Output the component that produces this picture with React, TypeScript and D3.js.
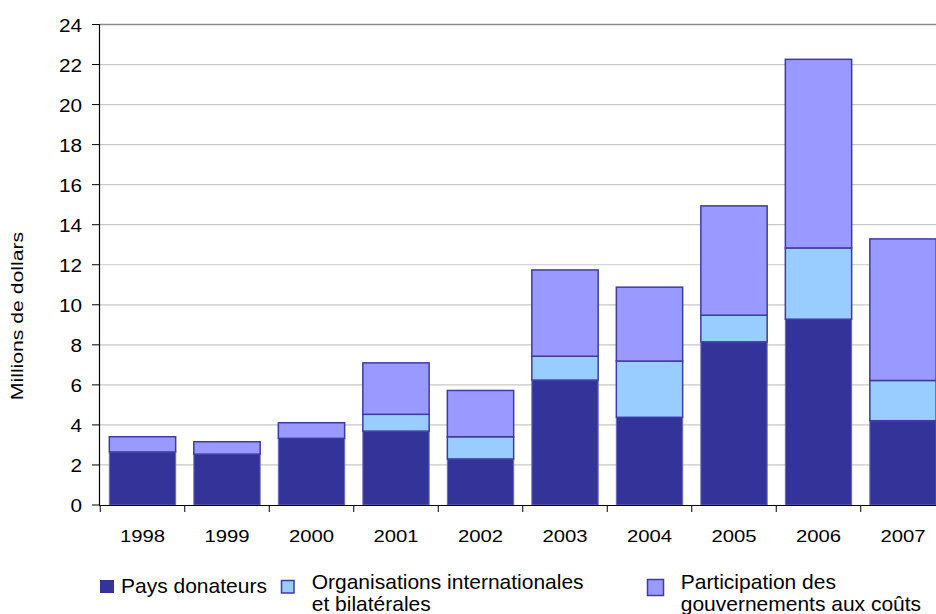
import React, { useEffect, useRef } from 'react';
import * as d3 from 'd3';

const years = ['1998', '1999', '2000', '2001', '2002', '2003', '2004', '2005', '2006', '2007'];
const paysDonateurs = [2.65, 2.54, 3.33, 3.69, 2.3, 6.24, 4.38, 8.15, 9.28, 4.21];
const organisations = [0, 0, 0, 0.84, 1.11, 1.19, 2.81, 1.33, 3.56, 2.01];
const participation = [0.76, 0.62, 0.78, 2.57, 2.31, 4.31, 3.69, 5.46, 9.42, 7.07];
const yTicks = [0, 2, 4, 6, 8, 10, 12, 14, 16, 18, 20, 22, 24];

const seriesKeys = ['pays', 'orga', 'part'];
const colors = { pays: '#333399', orga: '#99ccff', part: '#9999ff' };
const strokes = { pays: '#6a6ac2', orga: '#3c3ca3', part: '#3c3ca3' };

export default function App() {
  const node = useRef<SVGSVGElement>(null);

  useEffect(() => {
    const svg = d3.select(node.current);
    svg.selectAll('*').remove();

    const rows = years.map((y, i) => ({
      year: y,
      pays: paysDonateurs[i],
      orga: organisations[i],
      part: participation[i],
    }));

    const x = d3.scaleBand().domain(years).range([100.25, 945.25]).paddingInner(0.215).paddingOuter(0.1075);
    const y = d3.scaleLinear().domain([0, 24]).range([505, 24.5]);

    // grid
    svg.append('g')
      .selectAll('line')
      .data(yTicks.filter(t => t > 0))
      .enter()
      .append('line')
      .attr('x1', 100).attr('x2', 936)
      .attr('y1', d => y(d)).attr('y2', d => y(d))
      .attr('stroke', d => (d === 24 ? '#8a8a8a' : '#c8c8c8'))
      .attr('stroke-width', d => (d === 24 ? 1.5 : 1.2));

    // bars
    const stack = d3.stack<any>().keys(seriesKeys)(rows);
    svg.append('g')
      .selectAll('g')
      .data(stack)
      .enter()
      .append('g')
      .attr('fill', d => colors[d.key])
      .attr('stroke', d => strokes[d.key])
      .attr('stroke-width', d => (d.key === 'pays' ? 1 : 1.5))
      .selectAll('rect')
      .data(d => d.filter(s => s[1] - s[0] > 0))
      .enter()
      .append('rect')
      .attr('x', d => x(d.data.year)!)
      .attr('width', x.bandwidth())
      .attr('y', d => y(d[1]))
      .attr('height', d => y(d[0]) - y(d[1]));

    // y axis
    const yAxis = svg.append('g');
    yAxis.append('line')
      .attr('x1', 99.5).attr('x2', 99.5).attr('y1', y(24)).attr('y2', y(0))
      .attr('stroke', '#000').attr('stroke-width', 1.2);
    yAxis.selectAll('line.tick')
      .data(yTicks)
      .enter()
      .append('line')
      .attr('class', 'tick')
      .attr('x1', 92).attr('x2', 100)
      .attr('y1', d => y(d)).attr('y2', d => y(d))
      .attr('stroke', '#000').attr('stroke-width', 1);
    yAxis.selectAll('text')
      .data(yTicks)
      .enter()
      .append('text')
      .attr('transform', d => `translate(82,${y(d) + 7}) scale(1.12,1)`)
      .attr('text-anchor', 'end')
      .attr('font-size', 18.5)
      .text(d => d);

    // x axis
    const xAxis = svg.append('g');
    xAxis.append('line')
      .attr('x1', 99).attr('x2', 936).attr('y1', 505.5).attr('y2', 505.5)
      .attr('stroke', '#000').attr('stroke-width', 1.2);
    xAxis.selectAll('line.tick')
      .data(years)
      .enter()
      .append('line')
      .attr('class', 'tick')
      .attr('x1', d => x(d)! - (x.step() - x.bandwidth()) / 2)
      .attr('x2', d => x(d)! - (x.step() - x.bandwidth()) / 2)
      .attr('y1', 505).attr('y2', 512)
      .attr('stroke', '#000').attr('stroke-width', 1);
    xAxis.selectAll('text')
      .data(years)
      .enter()
      .append('text')
      .attr('transform', d => `translate(${x(d)! + x.bandwidth() / 2},542.3) scale(1.18,1)`)
      .attr('text-anchor', 'middle')
      .attr('font-size', 17.2)
      .text(d => d);

    // y title
    svg.append('text')
      .attr('transform', 'translate(23.3,316) rotate(-90) scale(1.3,1)')
      .attr('text-anchor', 'middle')
      .attr('font-size', 16.3)
      .text('Millions de dollars');

    // legend
    const legend = svg.append('g').attr('font-size', 20);
    const items = [
      { key: 'pays', box: [100, 580, 14, 13], tx: 121, ty: 592.7, lines: ['Pays donateurs'] },
      { key: 'orga', box: [281.5, 580.5, 12.5, 12.5], tx: 311.7, ty: 589.3, lines: ['Organisations internationales', 'et bilatérales'] },
      { key: 'part', box: [647.5, 579.5, 16, 16], tx: 680.7, ty: 589.3, lines: ['Participation des', 'gouvernements aux coûts'] },
    ];
    items.forEach(it => {
      legend.append('rect')
        .attr('x', it.box[0]).attr('y', it.box[1])
        .attr('width', it.box[2]).attr('height', it.box[3])
        .attr('fill', colors[it.key])
        .attr('stroke', it.key === 'pays' ? 'none' : '#3c3ca3')
        .attr('stroke-width', 1.5);
      it.lines.forEach((l, i) => {
        legend.append('text')
          .attr('transform', `translate(${it.tx},${it.ty + i * 22}) scale(1.05,1)`)
          .text(l);
      });
    });
  }, []);

  return (
    <div style={{ position: 'fixed', left: 0, top: 0 }}>
      <svg
        ref={node}
        width={936}
        height={614}
        style={{ display: 'block', background: '#fff', fontFamily: 'Arial, "Liberation Sans", sans-serif' }}
      />
    </div>
  );
}
